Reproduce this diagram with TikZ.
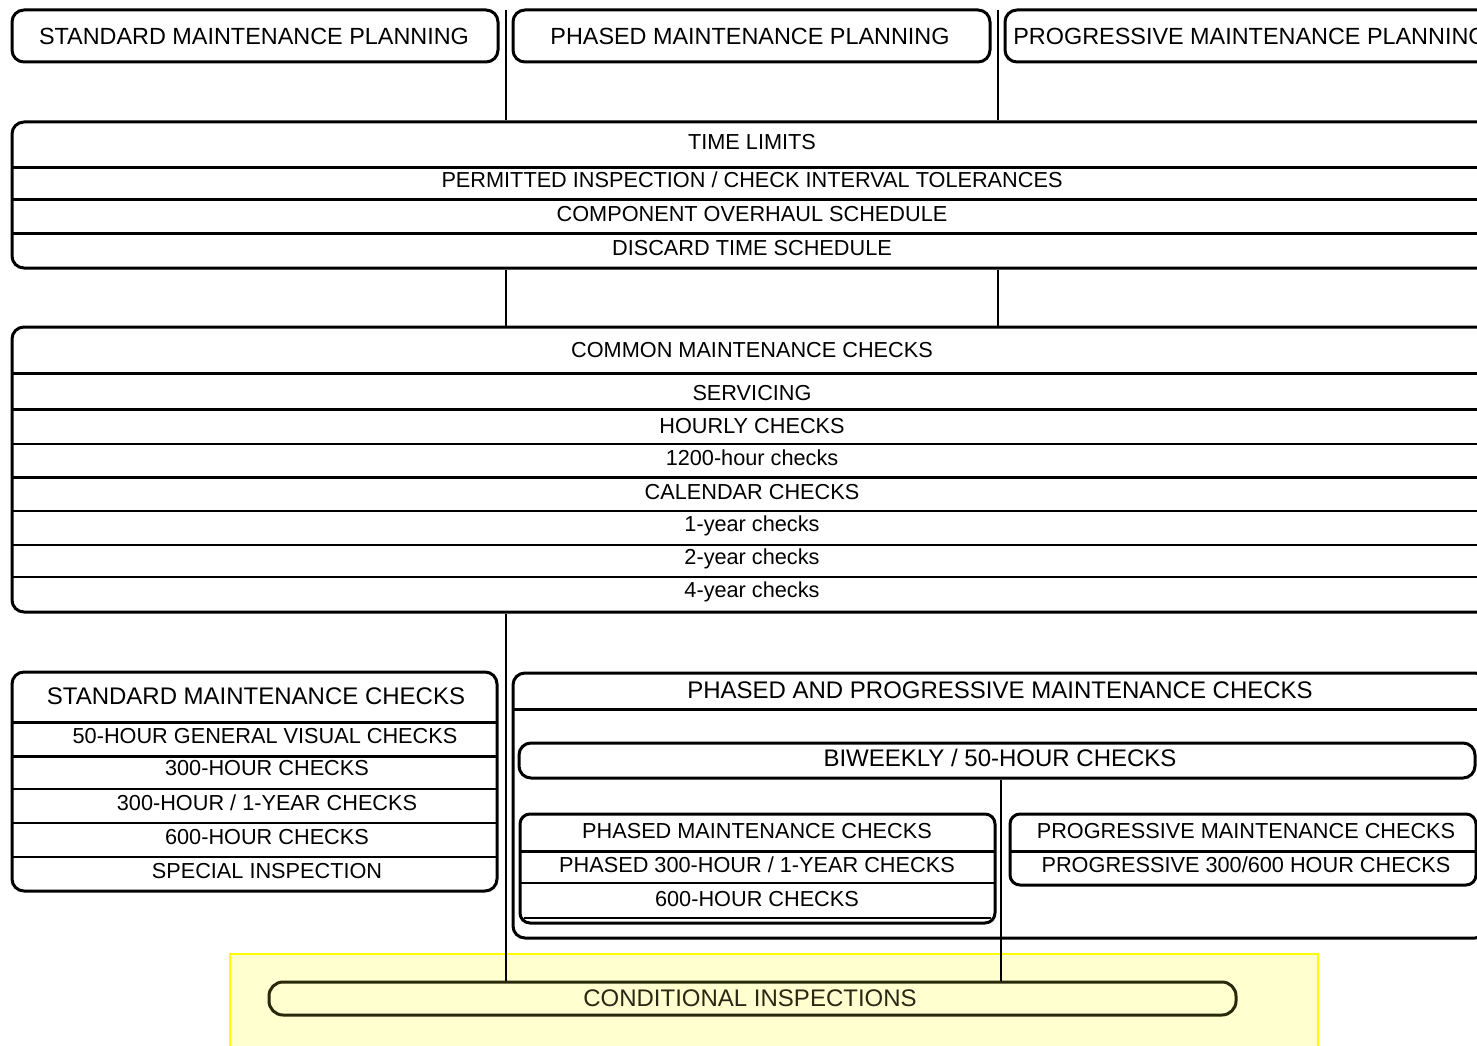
\documentclass[tikz,border=0pt]{standalone}
\usepackage{fontspec}
\setmainfont{Liberation Sans}
\begin{document}
\begin{tikzpicture}[x=1pt,y=-1pt,
  box/.style={draw=black,line width=3pt,rounded corners=12pt,inner sep=0pt,fill=white},
  sbox/.style={box,rounded corners=10pt},
  txt/.style={inner sep=0pt,text=black,font=\fontsize{21.7}{26}\selectfont,text height=15.5pt,text depth=0pt},
  txtb/.style={txt,font=\fontsize{24}{28}\selectfont,text height=17.2pt},
  txtt/.style={txt,font=\fontsize{23.4}{28}\selectfont,text height=16.8pt},
  thickdiv/.style={line width=3pt},
  thindiv/.style={line width=2pt},
  conn/.style={line width=2.8pt,draw=black}]
\useasboundingbox (0,0) rectangle (1477,1046);
\clip (0,0) rectangle (1477,1046);
\fill[white] (0,0) rectangle (1477,1046);

% highlight
\draw[draw={rgb,255:red,255;green,255;blue,0},line width=1.8pt,fill={rgb,255:red,255;green,255;blue,208}] (230,954) rectangle (1318,1060);

% top planning boxes
\node[box,minimum width=486pt,minimum height=52pt] (spl) at (255,36) {};
\node[txtt] (splt) at (254,36) {STANDARD MAINTENANCE PLANNING};
\node[box,minimum width=477pt,minimum height=52pt] (ppl) at (751.5,36) {};
\node[txtt] (pplt) at (750,36) {PHASED MAINTENANCE PLANNING};
\node[box,minimum width=490pt,minimum height=52pt] (gpl) at (1250,36) {};
\node[txtt] (gplt) at (1250,36) {PROGRESSIVE MAINTENANCE PLANNING};

% time limits
\node[box,minimum width=1480pt,minimum height=146pt] (tl) at (752,195) {};
\draw[thickdiv] (12,167) -- (1492,167);
\draw[thickdiv] (12,199) -- (1492,199);
\draw[thickdiv] (12,233) -- (1492,233);
\node[txt] (tl1) at (752,142) {TIME LIMITS};
\node[txt] (tl2) at (752,180) {PERMITTED INSPECTION / CHECK INTERVAL TOLERANCES};
\node[txt] (tl3) at (752,214) {COMPONENT OVERHAUL SCHEDULE};
\node[txt] (tl4) at (752,248) {DISCARD TIME SCHEDULE};

% common checks
\node[box,minimum width=1480pt,minimum height=285pt] (cm) at (752,469.5) {};
\draw[thickdiv] (12,373) -- (1492,373);
\draw[thickdiv] (12,409) -- (1492,409);
\draw[thindiv] (12,444) -- (1492,444);
\draw[thickdiv] (12,477) -- (1492,477);
\draw[thindiv] (12,511) -- (1492,511);
\draw[thindiv] (12,545) -- (1492,545);
\draw[thindiv] (12,577) -- (1492,577);
\node[txt] (cm0) at (752,350) {COMMON MAINTENANCE CHECKS};
\node[txt] (cm1) at (752,393) {SERVICING};
\node[txt] (cm2) at (752,426) {HOURLY CHECKS};
\node[txt] (cm3) at (752,458) {1200-hour checks};
\node[txt] (cm4) at (752,492) {CALENDAR CHECKS};
\node[txt] (cm5) at (752,524) {1-year checks};
\node[txt] (cm6) at (752,557) {2-year checks};
\node[txt] (cm7) at (752,590) {4-year checks};

% standard checks
\node[box,minimum width=485pt,minimum height=219pt] (sc) at (254.5,781.5) {};
\draw[thickdiv] (12,722) -- (497,722);
\draw[thickdiv] (12,756) -- (497,756);
\draw[thindiv] (12,789) -- (497,789);
\draw[thindiv] (12,823) -- (497,823);
\draw[thindiv] (12,857) -- (497,857);
\node[txtb] (sc0) at (256,696) {STANDARD MAINTENANCE CHECKS};
\node[txt] (sc1) at (265,736) {50-HOUR GENERAL VISUAL CHECKS};
\node[txt] (sc2) at (267,768) {300-HOUR CHECKS};
\node[txt] (sc3) at (267,803) {300-HOUR / 1-YEAR CHECKS};
\node[txt] (sc4) at (267,837) {600-HOUR CHECKS};
\node[txt] (sc5) at (267,871) {SPECIAL INSPECTION};

% phased and progressive
\node[box,minimum width=974pt,minimum height=265pt] (pp) at (1000,805.5) {};
\draw[thickdiv] (513,709) -- (1490,709);
\node[txtb] (pp0) at (1000,690) {PHASED AND PROGRESSIVE MAINTENANCE CHECKS};
\node[box,minimum width=956pt,minimum height=35pt] (bw) at (997,760.5) {};
\node[txtb] (bwt) at (1000,758) {BIWEEKLY / 50-HOUR CHECKS};

\node[sbox,minimum width=475pt,minimum height=109pt] (ph) at (757.5,868.5) {};
\draw[thickdiv] (520,851) -- (995,851);
\draw[thindiv] (520,883) -- (995,883);
\draw[thindiv] (524,918) -- (991,918);
\node[txt] (ph0) at (757,831) {PHASED MAINTENANCE CHECKS};
\node[txt] (ph1) at (757,865) {PHASED 300-HOUR / 1-YEAR CHECKS};
\node[txt] (ph2) at (757,899) {600-HOUR CHECKS};

\node[sbox,minimum width=466pt,minimum height=71pt] (pg) at (1243,849.5) {};
\draw[thickdiv] (1010,851) -- (1476,851);
\node[txt] (pg0) at (1246,831) {PROGRESSIVE MAINTENANCE CHECKS};
\node[txt] (pg1) at (1246,865) {PROGRESSIVE 300/600 HOUR CHECKS};

% conditional inspections
\node[draw={rgb,255:red,40;green,40;blue,10},line width=3pt,rounded corners=14pt,inner sep=0pt,minimum width=967pt,minimum height=33pt] (ci) at (752.5,998.5) {};
\node[txtb,text={rgb,255:red,40;green,40;blue,20}] (cit) at (750,998) {CONDITIONAL INSPECTIONS};

% connectors
\coordinate (ja) at (506,10);
\coordinate (jb) at (998,10);
\coordinate (jc) at (1001,778);
\draw[conn] (ja) -- (ja |- tl.north);
\draw[conn] (jb) -- (jb |- tl.north);
\draw[conn] (ja |- tl.south) -- (ja |- cm.north);
\draw[conn] (jb |- tl.south) -- (jb |- cm.north);
\draw[conn] (ja |- cm.south) -- (ja |- ci.north);
\draw[conn] (jc |- bw.south) -- (jc |- ci.north);
\end{tikzpicture}
\end{document}
